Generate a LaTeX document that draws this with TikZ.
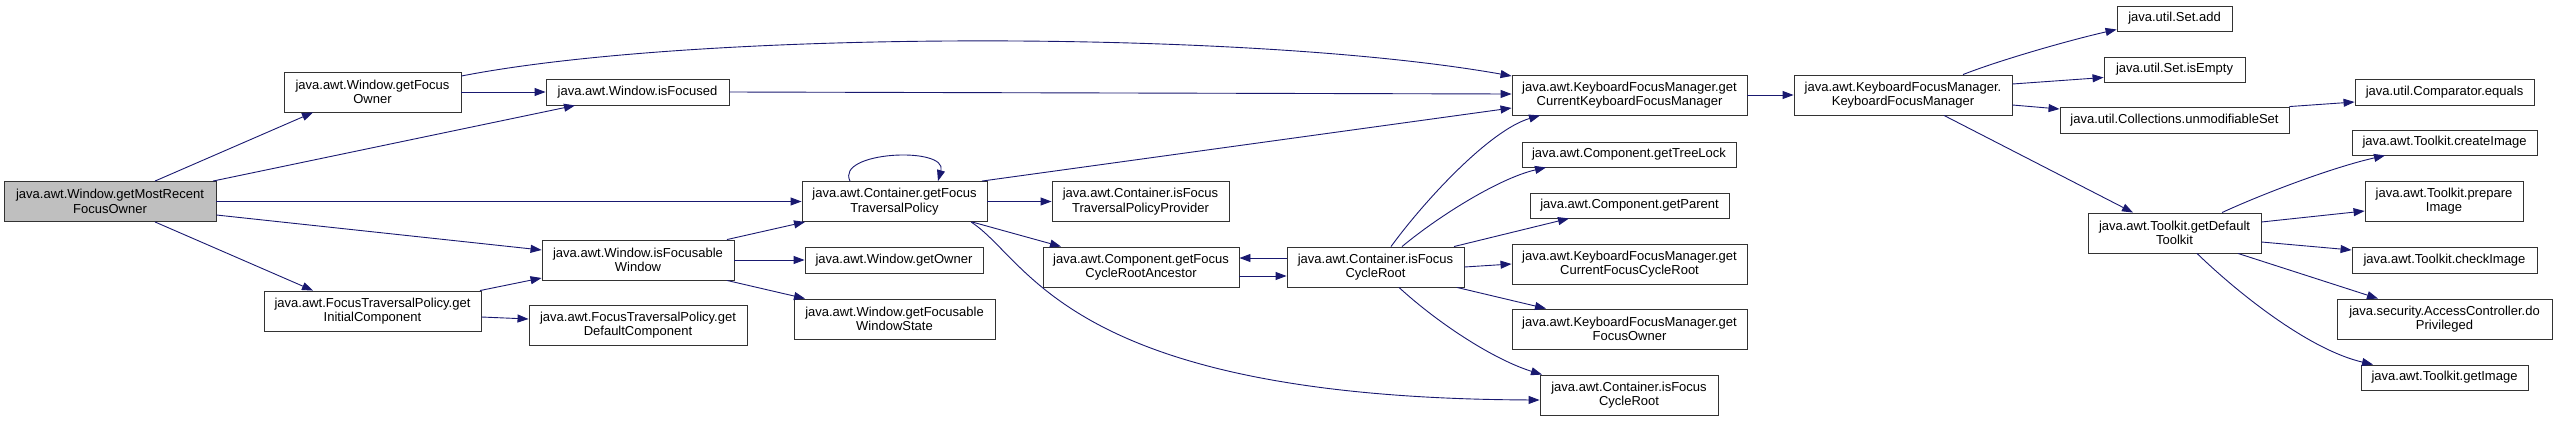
\documentclass[tikz,border=0pt]{standalone}
\usepackage{fontspec}
\setmainfont{Liberation Sans}
\usetikzlibrary{arrows.meta}
\definecolor{edgeblue}{RGB}{25,25,112}
\definecolor{rootgray}{RGB}{191,191,191}

\tikzset{
  fn/.style={draw=black!80, line width=0.9pt, fill=white, align=center, inner sep=0pt,
    font=\fontsize{13}{14.5}\selectfont},
  fnone/.style={fn, minimum height=26pt},
  fntwo/.style={fn, minimum height=40pt},
  call/.style={edgeblue, line width=0.9pt, -{Triangle[length=11pt,width=8pt]}}
}

\begin{document}
\begin{tikzpicture}[x=1pt,y=-1pt]
    \useasboundingbox (0,0) rectangle (2557,421);

    \node[fntwo, fill=rootgray, minimum width=212pt] (root) at (110,201.5) {java.awt.Window.getMostRecent\\FocusOwner};
    \node[fntwo, minimum width=177pt] (gfo) at (372.5,92) {java.awt.Window.getFocus\\Owner};
    \node[fntwo, minimum width=217pt] (gic) at (372.5,311) {java.awt.FocusTraversalPolicy.get\\InitialComponent};
    \node[fnone, minimum width=183pt] (isf) at (637.5,92) {java.awt.Window.isFocused};
    \node[fntwo, minimum width=192pt] (ifw) at (638,260) {java.awt.Window.isFocusable\\Window};
    \node[fntwo, minimum width=218pt] (gdc) at (638,325) {java.awt.FocusTraversalPolicy.get\\DefaultComponent};
    \node[fntwo, minimum width=185pt] (gftp) at (894.5,201.5) {java.awt.Container.getFocus\\TraversalPolicy};
    \node[fnone, minimum width=178pt] (gow) at (894,260) {java.awt.Window.getOwner};
    \node[fntwo, minimum width=201pt] (gfws) at (894.5,319) {java.awt.Window.getFocusable\\WindowState};
    \node[fntwo, minimum width=177pt] (iftpp) at (1140.5,201.5) {java.awt.Container.isFocus\\TraversalPolicyProvider};
    \node[fntwo, minimum width=196pt] (gfcra) at (1141,267) {java.awt.Component.getFocus\\CycleRootAncestor};
    \node[fntwo, minimum width=177pt] (ifcr) at (1375.5,267) {java.awt.Container.isFocus\\CycleRoot};
    \node[fntwo, minimum width=235pt] (gckfm) at (1629.5,95) {java.awt.KeyboardFocusManager.get\\CurrentKeyboardFocusManager};
    \node[fnone, minimum width=214pt, minimum height=25pt] (gtl) at (1629,154.5) {java.awt.Component.getTreeLock};
    \node[fnone, minimum width=199pt, minimum height=25pt] (gpar) at (1629.5,205.5) {java.awt.Component.getParent};
    \node[fntwo, minimum width=235pt] (gcfcr) at (1629.5,264) {java.awt.KeyboardFocusManager.get\\CurrentFocusCycleRoot};
    \node[fntwo, minimum width=235pt] (kgfo) at (1629.5,329) {java.awt.KeyboardFocusManager.get\\FocusOwner};
    \node[fntwo, minimum width=178pt] (ifcr2) at (1629,395) {java.awt.Container.isFocus\\CycleRoot};
    \node[fntwo, minimum width=218pt] (kfm) at (1903,95) {java.awt.KeyboardFocusManager.\\KeyboardFocusManager};
    \node[fnone, minimum width=115pt, minimum height=25pt] (sadd) at (2174.5,18.5) {java.util.Set.add};
    \node[fnone, minimum width=141pt, minimum height=25pt] (sie) at (2174.5,69.5) {java.util.Set.isEmpty};
    \node[fnone, minimum width=229pt] (ums) at (2174.5,120) {java.util.Collections.unmodifiableSet};
    \node[fntwo, minimum width=173pt] (gdt) at (2174.5,233) {java.awt.Toolkit.getDefault\\Toolkit};
    \node[fnone, minimum width=179pt] (ceq) at (2444.5,92) {java.util.Comparator.equals};
    \node[fnone, minimum width=185pt, minimum height=25pt] (cimg) at (2444.5,142.5) {java.awt.Toolkit.createImage};
    \node[fntwo, minimum width=158pt] (pimg) at (2444,201) {java.awt.Toolkit.prepare\\Image};
    \node[fnone, minimum width=185pt] (chk) at (2444.5,260) {java.awt.Toolkit.checkImage};
    \node[fntwo, minimum width=215pt] (dop) at (2444.5,319) {java.security.AccessController.do\\Privileged};
    \node[fnone, minimum width=167pt, minimum height=25pt] (gimg) at (2444.5,377.5) {java.awt.Toolkit.getImage};

    \draw[call] ([xshift=45pt]root.north) -- ([xshift=-59.5pt]gfo.south);
    \draw[call] ([xshift=103pt]root.north) -- ([xshift=-62.5pt]isf.south);
    \draw[call] (root.east) -- (gftp.west);
    \draw[call] ([yshift=-13.5pt]root.east) -- ([yshift=10pt]ifw.west);
    \draw[call] ([xshift=45pt]root.south) -- ([xshift=-59.5pt]gic.north);
    \draw[call] ([xshift=107.5pt]gic.north) -- ([yshift=-18pt]ifw.west);
    \draw[call] ([yshift=-6pt]gic.east) -- ([yshift=6pt]gdc.west);

    \draw[call] ([yshift=16pt]gfo.east) .. controls (700,29.5) and (1250,29.5) .. ([yshift=19pt]gckfm.west);
    \draw[call] (gfo.east) -- (isf.west);
    \draw[call] (isf.east) -- ([yshift=1pt]gckfm.west);

    \draw[call] ([xshift=89pt]ifw.north) -- ([xshift=-89.5pt]gftp.south);
    \draw[call] (ifw.east) -- (gow.west);
    \draw[call] ([xshift=89pt]ifw.south) -- ([xshift=-89.5pt]gfws.north);

    \draw[call] ([xshift=-44.5pt]gftp.north) .. controls +(-15,-30) and +(10,-35) .. ([xshift=43.5pt]gftp.north);
    \draw[call] ([xshift=87.5pt]gftp.north) -- ([yshift=-13pt]gckfm.west);
    \draw[call] (gftp.east) -- (iftpp.west);
    \draw[call] ([xshift=77.5pt]gftp.south) -- ([xshift=-80pt]gfcra.north);
    \draw[call] ([xshift=76.5pt]gftp.south) .. controls (1030,260) and (1065,398) .. ([yshift=-5pt]ifcr2.west);

    \draw[call] ([yshift=-9pt]gfcra.east) -- ([yshift=-9pt]ifcr.west);
    \draw[call] ([yshift=9pt]ifcr.west) -- ([yshift=9pt]gfcra.east);

    \draw[call] ([xshift=15.5pt]ifcr.north) .. controls (1425,200) and (1490,130) .. ([xshift=-89.5pt]gckfm.south);
    \draw[call] ([xshift=26.5pt]ifcr.north) .. controls (1440,215) and (1500,178) .. ([xshift=-83pt]gtl.south);
    \draw[call] ([xshift=78.5pt]ifcr.north) -- ([xshift=-60.5pt]gpar.south);
    \draw[call] (ifcr.east) -- (gcfcr.west);
    \draw[call] ([xshift=81.5pt]ifcr.south) -- ([xshift=-83.5pt]kgfo.north);
    \draw[call] ([xshift=23.5pt]ifcr.south) .. controls (1440,325) and (1495,360) .. ([xshift=-87pt]ifcr2.north);

    \draw[call] (gckfm.east) -- (kfm.west);
    \draw[call] ([xshift=60pt]kfm.north) .. controls (2000,60) and (2070,40) .. ([yshift=-11pt]sadd.west);
    \draw[call] ([yshift=11pt]kfm.east) -- ([yshift=-8pt]sie.west);
    \draw[call] ([yshift=-10pt]kfm.east) -- ([yshift=11pt]ums.west);
    \draw[call] ([xshift=41pt]kfm.south) -- ([xshift=-41.5pt]gdt.north);
    \draw[call] (ums.north east) -- ([yshift=-10pt]ceq.west);

    \draw[call] ([xshift=47.5pt]gdt.north) .. controls (2260,195) and (2330,168) .. ([xshift=-59.5pt]cimg.south);
    \draw[call] ([yshift=11pt]gdt.east) -- ([yshift=-10pt]pimg.west);
    \draw[call] ([yshift=-9pt]gdt.east) -- ([yshift=10pt]chk.west);
    \draw[call] ([xshift=63.5pt]gdt.south) -- ([xshift=-66.5pt]dop.north);
    \draw[call] ([xshift=22.5pt]gdt.south) .. controls (2240,295) and (2310,350) .. ([xshift=-71.5pt]gimg.north);
\end{tikzpicture}
\end{document}
